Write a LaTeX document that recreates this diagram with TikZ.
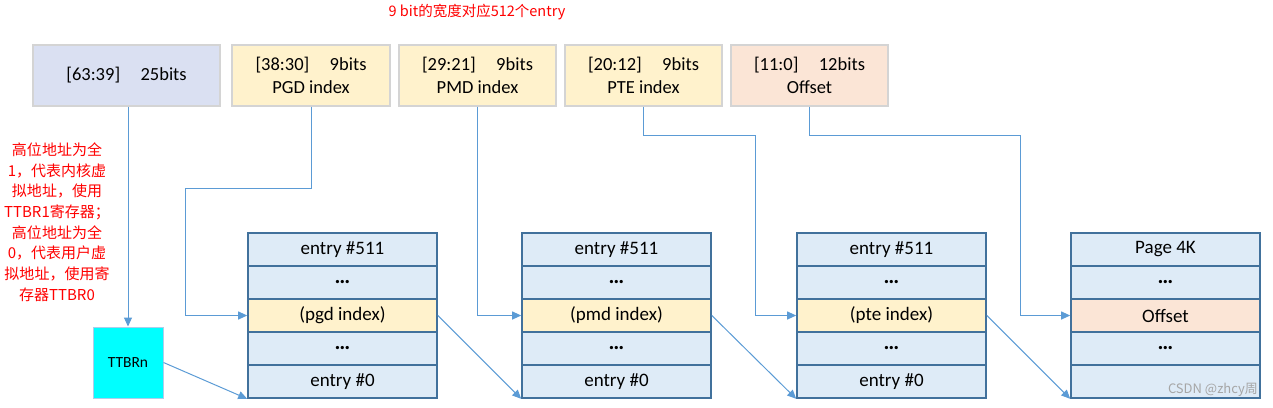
\documentclass[tikz,border=0pt]{standalone}
\usepackage{fontspec}
\setmainfont{Carlito}
\newfontfamily\cjk{Noto Sans CJK SC}
\usetikzlibrary{arrows.meta}
\definecolor{lav}{HTML}{DAE0F2}
\definecolor{yel}{HTML}{FFF2CC}
\definecolor{pch}{HTML}{FBE5D6}
\definecolor{tbl}{HTML}{DEEBF7}
\definecolor{tbd}{HTML}{41719C}
\definecolor{arc}{HTML}{5B9BD5}
\definecolor{shd}{HTML}{D4D4D4}
\definecolor{cyn}{HTML}{00FFFF}
\tikzset{
  topbox/.style={draw=shd, line width=1.2pt, minimum height=61pt, inner sep=0pt, align=center, font=\fontsize{18.5}{23}\selectfont},
  cell/.style={draw=tbd, line width=1.6pt, fill=tbl, minimum width=189pt, minimum height=33pt, inner sep=0pt, font=\fontsize{19}{20}\selectfont},
  arr/.style={draw=arc, line width=1pt, -{Triangle[length=9pt,width=8pt]}},
  redtxt/.style={text=red, font=\cjk\fontsize{15}{20.7}\selectfont, align=center, inner sep=0pt}
}
\newcommand{\dotsrow}{\textbf{\fontsize{22}{20}\selectfont …}}
\begin{document}
\begin{tikzpicture}[x=1pt,y=-1pt]
\useasboundingbox (0,0) rectangle (1273,407);
% title
\node[text=red, font=\cjk\fontsize{14.5}{16}\selectfont, inner sep=0pt] (title) at (477,12) {9 bit的宽度对应512个entry};
% top boxes
\node[topbox, fill=lav, minimum width=187pt] (b0) at (126.5,75.5) {[63:39]\hspace{1.1em}25bits};
\node[topbox, fill=yel, minimum width=158pt] (b1) at (311,75.5) {[38:30]\hspace{1.1em}9bits\\PGD index};
\node[topbox, fill=yel, minimum width=157pt] (b2) at (477.5,75.5) {[29:21]\hspace{1.1em}9bits\\PMD index};
\node[topbox, fill=yel, minimum width=157pt] (b3) at (643.5,75.5) {[20:12]\hspace{1.1em}9bits\\PTE index};
\node[topbox, fill=pch, minimum width=157pt] (b4) at (809.5,75.5) {[11:0]\hspace{1.1em}12bits\\Offset};
% tables
\foreach \t/\x/\mid/\top in {1/342.5/(pgd index)/entry \#511, 2/616.5/(pmd index)/entry \#511, 3/891.5/(pte index)/entry \#511}{
  \node[cell] (t\t r1) at (\x,249.5) {\top};
  \node[cell] (t\t r2) at (\x,282.5) {\dotsrow};
  \node[cell, fill=yel] (t\t r3) at (\x,315.5) {\mid};
  \node[cell] (t\t r4) at (\x,348.5) {\dotsrow};
  \node[cell] (t\t r5) at (\x,381.5) {entry \#0};
}
\node[cell] (t4r1) at (1165.5,249.5) {Page 4K};
\node[cell] (t4r2) at (1165.5,282.5) {\dotsrow};
\node[cell, fill=pch] (t4r3) at (1165.5,315.5) {Offset};
\node[cell] (t4r4) at (1165.5,348.5) {\dotsrow};
\node[cell] (t4r5) at (1165.5,381.5) {};
% TTBRn
\node[draw=arc!50, line width=1pt, fill=cyn, minimum width=70pt, minimum height=71pt, inner sep=0pt, font=\fontsize{15.5}{16}\selectfont] (ttbr) at (128,362.5) {TTBRn};
% red note
\node[redtxt] (note) at (57,222) {高位地址为全\\1，代表内核虚\\拟地址，使用\\TTBR1寄存器；\\高位地址为全\\0，代表用户虚\\拟地址，使用寄\\存器TTBR0};
% connectors
\coordinate (k1) at (185,188);
\coordinate (k3) at (755,135);
\coordinate (k4) at (1020,135);
\draw[arr] (b0.south -| ttbr.north) -- (ttbr.north);
\draw[arr] (b1.south) |- (k1) |- (t1r3.west);
\draw[arr] (b2.south) |- (t2r3.west);
\draw[arr] (b3.south) |- (k3) |- (t3r3.west);
\draw[arr] (b4.south) |- (k4) |- (t4r3.west);
\draw[arr] (ttbr.east) -- (t1r5.south west);
\draw[arr] (t1r3.east) -- (t2r5.south west);
\draw[arr] (t2r3.east) -- (t3r5.south west);
\draw[arr] (t3r3.east) -- (t4r5.south west);
% watermark
\node[text=gray!70, font=\cjk\fontsize{13}{15}\selectfont, anchor=east, inner sep=0pt] (wm) at (1258,390) {CSDN @zhcy周};
\end{tikzpicture}
\end{document}
